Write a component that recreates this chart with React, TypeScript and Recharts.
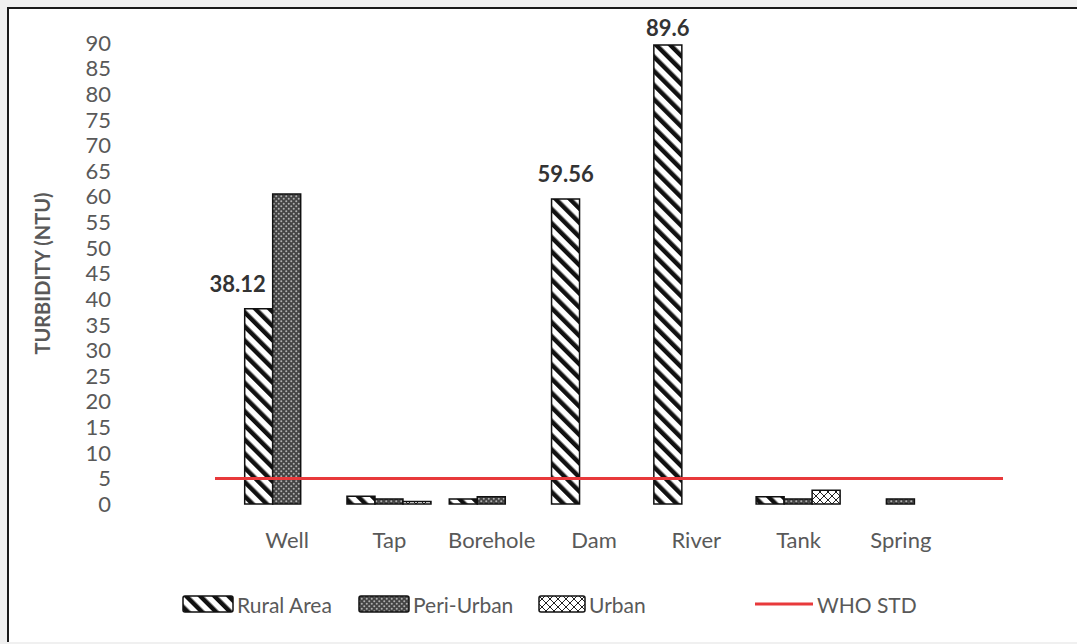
import React from "react";
import {
  BarChart,
  Bar,
  XAxis,
  YAxis,
  ReferenceLine,
  LabelList,
} from "recharts";

const CATEGORIES = ["Well", "Tap", "Borehole", "Dam", "River", "Tank", "Spring"];
const RURAL_AREA = [38.12, 1.5, 1.0, 59.56, 89.6, 1.4, null];
const PERI_URBAN = [60.5, 1.0, 1.4, null, null, 1.0, 1.0];
const URBAN = [null, 0.5, null, null, null, 2.7, null];
const WHO_STD = 5;
const Y_TICKS = [0, 5, 10, 15, 20, 25, 30, 35, 40, 45, 50, 55, 60, 65, 70, 75, 80, 85, 90];
const LABELED = ["Well", "Dam", "River"];

const FONT = "Lato, 'Noto Sans', sans-serif";
const GREY = "#595959";
const RED = "#e8393b";

const data = CATEGORIES.map((name, i) => ({
  name,
  rural: RURAL_AREA[i],
  peri: PERI_URBAN[i],
  urban: URBAN[i],
}));

function Patterns() {
  return (
    <defs>
      <pattern
        id="p-rural"
        patternUnits="userSpaceOnUse"
        width="10"
        height="10"
        patternTransform="rotate(-45)"
      >
        <rect width="10" height="10" fill="#fff" />
        <rect width="4.5" height="10" fill="#111" />
      </pattern>
      <pattern id="p-peri" patternUnits="userSpaceOnUse" width="5" height="5">
        <rect width="5" height="5" fill="#444" />
        <circle cx="1.25" cy="1.25" r="1" fill="#b0b0b0" />
        <circle cx="3.75" cy="3.75" r="1" fill="#b0b0b0" />
      </pattern>
      <pattern id="p-urban" patternUnits="userSpaceOnUse" width="8" height="8">
        <rect width="8" height="8" fill="#fff" />
        <path d="M0,0 L8,8 M8,0 L0,8" stroke="#222" strokeWidth="1" />
      </pattern>
    </defs>
  );
}

function ValueLabel(props: any) {
  const { x, y, width, value, index } = props;
  const name = CATEGORIES[index];
  if (!LABELED.includes(name) || value == null) return null;
  // Excel nudges the first label off the taller neighbour bar, and clamps the top one
  const dx = index === 0 ? -21 : 0;
  const baseY = Math.max(y - 17, 36);
  return (
    <text
      x={x + width / 2 + dx}
      y={baseY}
      textAnchor="middle"
      fill="#333"
      fontSize={22}
      fontWeight={700}
      fontFamily={FONT}
    >
      {value}
    </text>
  );
}

function YTitle(props: any) {
  const { viewBox } = props;
  const cx = viewBox.x + 22;
  const cy = viewBox.y + viewBox.height / 2;
  return (
    <text
      x={cx}
      y={cy}
      transform={`rotate(-90, ${cx}, ${cy})`}
      textAnchor="middle"
      dominantBaseline="central"
      fill={GREY}
      fontSize={20}
      fontWeight={700}
      fontFamily={FONT}
    >
      TURBIDITY (NTU)
    </text>
  );
}

const LEGEND = [
  { label: "Rural Area", fill: "url(#p-rural)", left: 182, w: 52 },
  { label: "Peri-Urban", fill: "url(#p-peri)", left: 358, w: 52 },
  { label: "Urban", fill: "url(#p-urban)", left: 538, w: 48 },
];

function ChartLegend() {
  return (
    <div style={{ position: "absolute", left: 0, top: 590, width: 1077, height: 30 }}>
      {LEGEND.map((item) => (
        <div
          key={item.label}
          style={{
            position: "absolute",
            left: item.left,
            top: 0,
            display: "flex",
            alignItems: "center",
            height: 28,
          }}
        >
          <svg width={item.w} height={18} style={{ display: "block" }}>
            <rect
              x={1}
              y={1}
              width={item.w - 2}
              height={16}
              rx={2}
              fill={item.fill}
              stroke="#111"
              strokeWidth={1.5}
            />
          </svg>
          <span
            style={{
              marginLeft: 3,
              fontFamily: FONT,
              fontSize: 21,
              color: GREY,
              whiteSpace: "nowrap",
            }}
          >
            {item.label}
          </span>
        </div>
      ))}
      <div
        style={{
          position: "absolute",
          left: 755,
          top: 0,
          display: "flex",
          alignItems: "center",
          height: 28,
        }}
      >
        <svg width={58} height={18} style={{ display: "block" }}>
          <line x1={0} y1={9} x2={58} y2={9} stroke={RED} strokeWidth={3} />
        </svg>
        <span
          style={{
            marginLeft: 4,
            fontFamily: FONT,
            fontSize: 21,
            color: GREY,
            whiteSpace: "nowrap",
          }}
        >
          WHO STD
        </span>
      </div>
    </div>
  );
}

export default function App() {
  return (
    <div
      style={{
        position: "absolute",
        left: 0,
        top: 0,
        width: 1077,
        height: 644,
        background: "#f0f0f0",
        overflow: "hidden",
      }}
    >
      <div
        style={{
          position: "absolute",
          left: 7,
          top: 7,
          right: 0,
          bottom: 2,
          background: "#fff",
          borderTop: "2px solid #1a1a1a",
          borderLeft: "2px solid #1a1a1a",
        }}
      />
      <div style={{ position: "absolute", left: 0, top: 0 }}>
        <BarChart
          width={1077}
          height={644}
          data={data}
          margin={{ top: 43, right: 74, bottom: 100, left: 20 }}
          barCategoryGap="8.5%"
          barGap={0}
        >
          <Patterns />
          <XAxis
            dataKey="name"
            height={40}
            padding={{ left: 21, right: 51 }}
            axisLine={false}
            tickLine={false}
            tickSize={0}
            tickMargin={28}
            interval={0}
            tick={{ fill: GREY, fontSize: 22, fontFamily: FONT }}
          />
          <YAxis
            width={195}
            domain={[0, 90]}
            ticks={Y_TICKS}
            interval={0}
            axisLine={false}
            tickLine={false}
            tickSize={0}
            tickMargin={104}
            tick={{ fill: GREY, fontSize: 22, fontFamily: FONT }}
            label={<YTitle />}
          />
          <Bar
            dataKey="rural"
            name="Rural Area"
            fill="url(#p-rural)"
            stroke="#111"
            strokeWidth={1.5}
            isAnimationActive={false}
          >
            <LabelList dataKey="rural" content={<ValueLabel />} />
          </Bar>
          <Bar
            dataKey="peri"
            name="Peri-Urban"
            fill="url(#p-peri)"
            stroke="#111"
            strokeWidth={1.5}
            isAnimationActive={false}
          />
          <Bar
            dataKey="urban"
            name="Urban"
            fill="url(#p-urban)"
            stroke="#111"
            strokeWidth={1.5}
            isAnimationActive={false}
          />
          <ReferenceLine y={WHO_STD} stroke={RED} strokeWidth={3} ifOverflow="visible" />
        </BarChart>
      </div>
      <ChartLegend />
    </div>
  );
}
